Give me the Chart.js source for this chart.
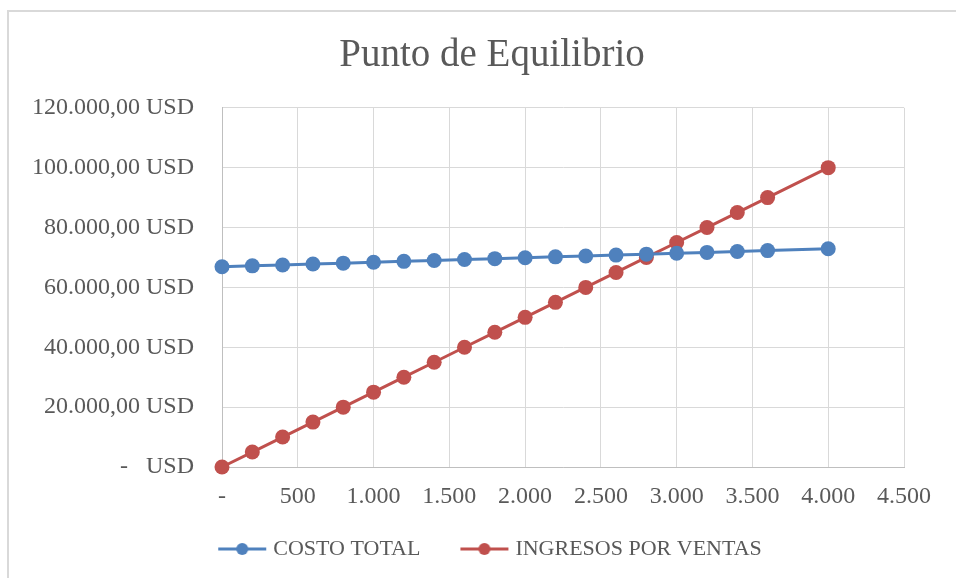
<!DOCTYPE html>
<html>
<head>
<meta charset="utf-8">
<script src="https://cdn.jsdelivr.net/npm/chart.js@4/dist/chart.umd.min.js"></script>
<style>
  html, body { margin: 0; padding: 0; background: #fff; }
  #wrap { position: relative; width: 956px; height: 578px; }
  #frame { position: absolute; left: 7px; top: 10px; right: 0; bottom: 0;
           border-left: 2px solid #d9d9d9; border-top: 2px solid #d9d9d9; pointer-events: none; }
</style>
</head>
<body>
<div id="wrap">
  <canvas id="chart" width="956" height="578"></canvas>
  <div id="frame"></div>
</div>
<script>
// unidades vendidas
const unidades = [0, 200, 400, 600, 800, 1000, 1200, 1400, 1600, 1800, 2000, 2200, 2400, 2600, 2800, 3000, 3200, 3400, 3600, 4000];
const costoTotal = [66900, 67200, 67500, 67800, 68100, 68400, 68700, 69000, 69300, 69600, 69900, 70200, 70500, 70800, 71100, 71400, 71700, 72000, 72300, 72900];
const ingresos = [0, 5000, 10000, 15000, 20000, 25000, 30000, 35000, 40000, 45000, 50000, 55000, 60000, 65000, 70000, 75000, 80000, 85000, 90000, 100000];

const AZUL = '#4f81bd';
const ROJO = '#c0504d';
const TEXTO = '#595959';
const FUENTE = "'Liberation Serif', 'Times New Roman', serif";

function miles(n) {
  return String(Math.round(n)).replace(/\B(?=(\d{3})+(?!\d))/g, '.');
}

function legendIcon(color) {
  const c = document.createElement('canvas');
  c.width = 50; c.height = 16;
  const g = c.getContext('2d');
  g.strokeStyle = color;
  g.lineWidth = 3;
  g.beginPath(); g.moveTo(1, 8); g.lineTo(49, 8); g.stroke();
  g.fillStyle = color;
  g.beginPath(); g.arc(25, 8, 6, 0, Math.PI * 2); g.fill();
  return c;
}
const icons = [legendIcon(AZUL), legendIcon(ROJO)];

// las etiquetas de los ejes se recortan a la caja del eje: la ampliamos despues del layout
const sinRecorte = {
  id: 'sinRecorte',
  afterLayout(chart) {
    chart.scales.y.left = 0;
    chart.scales.x.bottom = chart.height;
  },
};

const ctx = document.getElementById('chart').getContext('2d');
new Chart(ctx, {
  type: 'line',
  data: {
    datasets: [
      {
        label: 'COSTO TOTAL',
        data: unidades.map((u, i) => ({ x: u, y: costoTotal[i] })),
        borderColor: AZUL,
        backgroundColor: AZUL,
        borderWidth: 3,
        pointRadius: 7.5,
        pointBorderWidth: 0,
        pointHoverRadius: 7.5,
        clip: false,
      },
      {
        label: 'INGRESOS POR VENTAS',
        data: unidades.map((u, i) => ({ x: u, y: ingresos[i] })),
        borderColor: ROJO,
        backgroundColor: ROJO,
        borderWidth: 3,
        pointRadius: 7.5,
        pointBorderWidth: 0,
        pointHoverRadius: 7.5,
        clip: false,
      },
    ],
  },
  plugins: [sinRecorte],
  options: {
    responsive: false,
    animation: false,
    layout: { padding: { left: 80, right: 52, top: 0, bottom: 8 } },
    plugins: {
      title: {
        display: true,
        text: 'Punto de Equilibrio',
        color: TEXTO,
        font: { family: FUENTE, size: 39, weight: 'normal', lineHeight: 1.2 },
        padding: { top: 32, bottom: 29 },
      },
      legend: {
        position: 'bottom',
        labels: {
          color: TEXTO,
          font: { family: FUENTE, size: 22 },
          usePointStyle: true,
          pointStyleWidth: 40,
          padding: 44,
          generateLabels: chart => {
            const items = Chart.defaults.plugins.legend.labels.generateLabels(chart);
            items.forEach((it, i) => { it.pointStyle = icons[i]; });
            return items;
          },
        },
      },
      tooltip: { enabled: false },
    },
    scales: {
      x: {
        type: 'linear',
        min: 0,
        max: 4500,
        afterFit: s => { s.height = 27; },
        ticks: {
          stepSize: 500,
          color: TEXTO,
          padding: 15,
          font: { family: FUENTE, size: 24 },
          callback: v => v === 0 ? '-' : miles(v),
        },
        grid: { color: '#d9d9d9', drawTicks: false },
        border: { color: '#bfbfbf' },
      },
      y: {
        min: 0,
        max: 120000,
        afterFit: s => { s.width = 142; },
        ticks: {
          stepSize: 20000,
          color: TEXTO,
          padding: 28,
          font: { family: FUENTE, size: 24 },
          callback: v => v === 0 ? '-   USD' : miles(v) + ',00 USD',
        },
        grid: { color: '#d9d9d9', drawTicks: false },
        border: { color: '#bfbfbf' },
      },
    },
  },
});
</script>
</body>
</html>
